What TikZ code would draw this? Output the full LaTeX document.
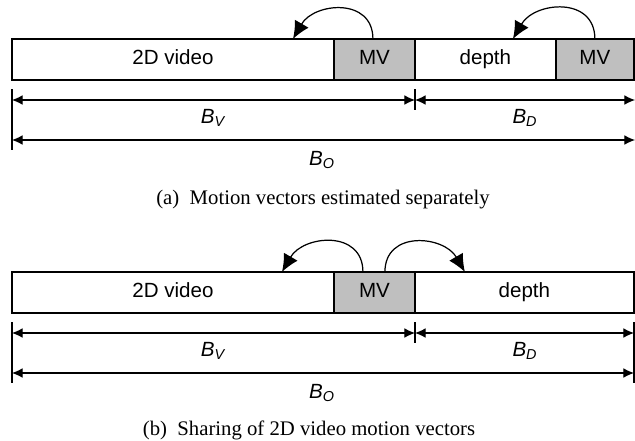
\documentclass[tikz,border=0pt]{standalone}
\usepackage{fontspec}
\setmainfont{Liberation Serif}
\setsansfont{Liberation Sans}
\usetikzlibrary{positioning,arrows.meta}

\tikzset{
	seg/.style={draw, line width=1.1pt, minimum height=0.82cm, outer sep=0pt, inner sep=0pt,
		text height=0.72em, text depth=0.2em,
		font=\sffamily\fontsize{11.7}{13}\selectfont},
	mvseg/.style={seg, fill=gray!50},
	dimline/.style={line width=0.6pt, {Latex[length=6pt,width=5.5pt]}-{Latex[length=6pt,width=5.5pt]}},
	tickline/.style={line width=0.6pt},
	mvarrow/.style={line width=0.7pt, -{Latex[length=10pt,width=9pt]}},
	lbl/.style={font=\sffamily\itshape\fontsize{11.7}{13}\selectfont},
	captext/.style={font=\fontsize{11.8}{13}\selectfont}
}

\begin{document}
\begin{tikzpicture}[x=0.02cm, y=-0.02cm]
		\useasboundingbox (0, 0) rectangle (635, 440);
		% (a) separate motion vectors
		\node[seg, anchor=north west, minimum width=6.44cm] (vidA) at (12, 39) {2D video};
		\node[mvseg, right=0pt of vidA, minimum width=1.62cm] (mvA) {MV};
		\node[seg, right=0pt of mvA, minimum width=2.82cm] (depA) {depth};
		\node[mvseg, right=0pt of depA, minimum width=1.56cm] (mvB) {MV};
		\coordinate (inA) at ([xshift=-0.82cm]vidA.north east);
		\coordinate (inB) at ([xshift=-0.86cm]depA.north east);
		\draw[mvarrow] ([xshift=-0.03cm]mvA.north) to[out=90, in=60, looseness=1.35] (inA);
		\draw[mvarrow] (mvB.north) to[out=90, in=60, looseness=1.35] (inB);
		\coordinate (vlA) at (12, 100);
		\coordinate (vrA) at (415, 100);
		\coordinate (drA) at (635, 100);
		\coordinate (olA) at (12, 140);
		\coordinate (orA) at (635, 140);
		\draw[tickline] (12, 89) -- (12, 150);
		\draw[tickline] (415, 89) -- (415, 110);
		\draw[dimline] (vlA) -- (vrA);
		\draw[dimline] (vrA) -- (drA);
		\draw[dimline] (olA) -- (orA);
		\node[lbl] (bvA) at (213, 118) {B\textsubscript{V}};
		\node[lbl] (bdA) at (525, 118) {B\textsubscript{D}};
		\node[lbl] (boA) at (322, 160) {B\textsubscript{O}};
		\node[captext] (capA) at (323, 200) {(a)\enskip Motion vectors estimated separately};
		% (b) shared motion vectors
		\begin{scope}[shift={(0, 233)}]
			\node[seg, anchor=north west, minimum width=6.44cm] (vidB) at (12, 39) {2D video};
			\node[mvseg, right=0pt of vidB, minimum width=1.62cm] (mvC) {MV};
			\node[seg, right=0pt of mvC, minimum width=4.38cm] (depB) {depth};
			\coordinate (inC) at ([xshift=-1.04cm]vidB.north east);
			\coordinate (inD) at ([xshift=1.0cm]depB.north west);
			\draw[mvarrow] ([xshift=-0.23cm]mvC.north) to[out=90, in=60, looseness=1.35] (inC);
			\draw[mvarrow] ([xshift=0.21cm]mvC.north) to[out=90, in=120, looseness=1.35] (inD);
			\coordinate (vlB) at (12, 100);
			\coordinate (vrB) at (415, 100);
			\coordinate (drB) at (634, 100);
			\coordinate (olB) at (12, 140);
			\coordinate (orB) at (634, 140);
			\draw[tickline] (12, 89) -- (12, 150);
			\draw[tickline] (415, 89) -- (415, 110);
			\draw[tickline] (634, 89) -- (634, 150);
			\draw[dimline] (vlB) -- (vrB);
			\draw[dimline] (vrB) -- (drB);
			\draw[dimline] (olB) -- (orB);
			\node[lbl] (bvB) at (213, 118) {B\textsubscript{V}};
			\node[lbl] (bdB) at (525, 118) {B\textsubscript{D}};
			\node[lbl] (boB) at (322, 160) {B\textsubscript{O}};
			\node[captext] (capB) at (309, 197) {(b)\enskip Sharing of 2D video motion vectors};
		\end{scope}
\end{tikzpicture}
\end{document}
